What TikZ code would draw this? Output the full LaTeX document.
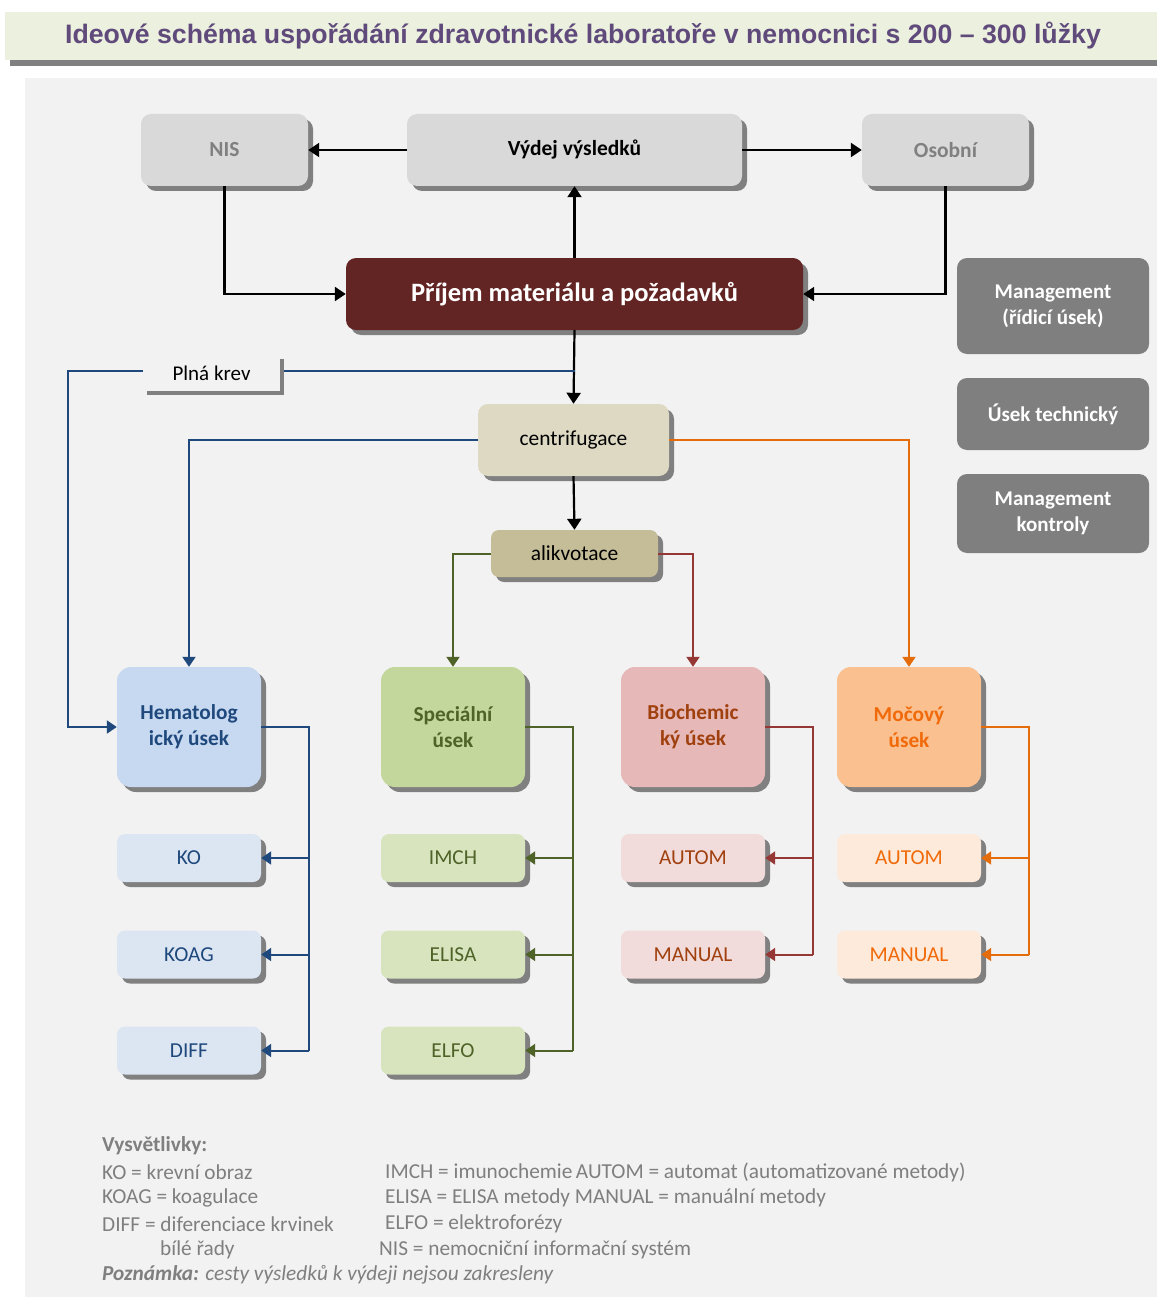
\documentclass[tikz,border=0pt]{standalone}
\usepackage{fontspec}
\setmainfont{Carlito}
\newfontfamily\titlefont{Liberation Sans}
\usetikzlibrary{shadows,arrows.meta}
\definecolor{panelbg}{HTML}{F2F2F2}
\definecolor{titlebg}{HTML}{EBF1DE}
\definecolor{titletxt}{HTML}{604A7B}
\definecolor{shadowgray}{HTML}{808080}
\definecolor{topfill}{HTML}{D9D9D9}
\definecolor{prijemfill}{HTML}{632523}
\definecolor{centrifill}{HTML}{DDD9C3}
\definecolor{alikfill}{HTML}{C4BD97}
\definecolor{hemfill}{HTML}{C6D9F1}
\definecolor{hemsmall}{HTML}{DCE6F2}
\definecolor{hemtxt}{HTML}{1F497D}
\definecolor{spefill}{HTML}{C3D69B}
\definecolor{spesmall}{HTML}{D7E4BD}
\definecolor{spetxt}{HTML}{4F6228}
\definecolor{biofill}{HTML}{E6B9B8}
\definecolor{biosmall}{HTML}{F2DCDB}
\definecolor{biotxt}{HTML}{A0400F}
\definecolor{bioline}{HTML}{953735}
\definecolor{mocfill}{HTML}{FAC090}
\definecolor{mocsmall}{HTML}{FDEADA}
\definecolor{moctxt}{HTML}{F06A0A}
\definecolor{mocline}{HTML}{E46C0A}
\definecolor{mgmtfill}{HTML}{7F7F7F}
\definecolor{legtxt}{HTML}{7F7F7F}
\tikzset{
  shad/.style={drop shadow={shadow xshift=5pt,shadow yshift=-5pt,fill=shadowgray,opacity=1}},
  bigbox/.style={shad,rounded corners=14pt,align=center,inner sep=0pt,font=\fontsize{21.3}{26}\selectfont\bfseries},
  smallbox/.style={shad,rounded corners=8pt,align=center,inner sep=0pt,font=\fontsize{21.3}{24}\selectfont,minimum width=144pt,minimum height=48pt},
  topbox/.style={shad,rounded corners=10pt,fill=topfill,inner sep=0pt,font=\fontsize{21.5}{24}\selectfont\bfseries,minimum height=72pt},
  mgmt/.style={fill=mgmtfill,rounded corners=10pt,text=white,align=center,inner sep=0pt,font=\fontsize{21}{26}\selectfont\bfseries,minimum width=192pt},
  blk/.style={line width=2.2pt,-{Triangle[width=14pt,length=11pt]}},
  blkline/.style={line width=2.2pt},
  col/.style={line width=2pt,-{Triangle[width=13pt,length=10pt]}},
  colline/.style={line width=2pt},
  legend/.style={anchor=west,inner sep=0pt,text=legtxt,font=\fontsize{21.3}{24}\selectfont}
}
\begin{document}
\begin{tikzpicture}[x=1pt,y=-1pt]
\useasboundingbox (0,0) rectangle (1157,1297);
\fill[white] (0,0) rectangle (1157,1297);
% title band
\fill[shadowgray] (10,60) rectangle (1157,66);
\fill[titlebg] (5,12) rectangle (1157,60);
\node[text=titletxt,font=\titlefont\fontsize{26.7}{30}\selectfont\bfseries] (title) at (583,36) {Ideové schéma uspořádání zdravotnické laboratoře v nemocnici s 200 – 300 lůžky};
% panel
\fill[panelbg] (25,78) rectangle (1157,1297);

% top row
\node[topbox,text=shadowgray,minimum width=167pt] (nis) at (224.5,150) {NIS};
\node[topbox,text=black,minimum width=335pt] (vydej) at (574.5,150) {Výdej výsledků};
\node[topbox,text=shadowgray,minimum width=167pt] (osobni) at (945.5,150) {Osobní};
\node[shad,rounded corners=10pt,fill=prijemfill,text=white,inner sep=0pt,minimum width=457pt,minimum height=72pt,font=\fontsize{26.5}{30}\selectfont\bfseries] (prijem) at (574.5,294) {Příjem materiálu a požadavků};

% management
\node[mgmt,minimum height=96pt] (m1) at (1053,306) {Management\\(řídicí úsek)};
\node[mgmt,minimum height=72pt] (m2) at (1053,414) {Úsek technický};
\node[mgmt,minimum height=79pt] (m3) at (1053,513.5) {Management\\kontroly};

% plna krev
\node[drop shadow={shadow xshift=4pt,shadow yshift=-4pt,fill=shadowgray,opacity=1},fill=panelbg,inner sep=0pt,minimum width=137pt,minimum height=36pt,font=\fontsize{21}{24}\selectfont] (plna) at (211.5,373) {Plná krev};

% centrifugace, alikvotace
\node[shad,rounded corners=10pt,fill=centrifill,inner sep=0pt,minimum width=191pt,minimum height=72pt,font=\fontsize{21.4}{24}\selectfont] (centri) at (573.5,440) {centrifugace};
\node[shad,rounded corners=8pt,fill=alikfill,inner sep=0pt,minimum width=167pt,minimum height=47pt,font=\fontsize{21.4}{24}\selectfont] (alik) at (574.5,553.5) {alikvotace};

% sections
\node[bigbox,fill=hemfill,text=hemtxt,minimum width=144pt,minimum height=120pt] (hem) at (189,727) {Hematolog\\ický úsek};
\node[bigbox,fill=spefill,text=spetxt,minimum width=144pt,minimum height=120pt] (spe) at (453,727) {Speciální\\úsek};
\node[bigbox,fill=biofill,text=biotxt,minimum width=144pt,minimum height=120pt] (bio) at (693,727) {Biochemic\\ký úsek};
\node[bigbox,fill=mocfill,text=moctxt,minimum width=144pt,minimum height=120pt] (moc) at (909,727) {Močový\\úsek};

% small boxes
\node[smallbox,fill=hemsmall,text=hemtxt] (ko) at (189,858) {KO};
\node[smallbox,fill=hemsmall,text=hemtxt] (koag) at (189,954.5) {KOAG};
\node[smallbox,fill=hemsmall,text=hemtxt] (diff) at (189,1050.5) {DIFF};
\node[smallbox,fill=spesmall,text=spetxt] (imch) at (453,858) {IMCH};
\node[smallbox,fill=spesmall,text=spetxt] (elisa) at (453,954.5) {ELISA};
\node[smallbox,fill=spesmall,text=spetxt] (elfo) at (453,1050.5) {ELFO};
\node[smallbox,fill=biosmall,text=biotxt] (bauto) at (693,858) {AUTOM};
\node[smallbox,fill=biosmall,text=biotxt] (bman) at (693,954.5) {MANUAL};
\node[smallbox,fill=mocsmall,text=moctxt] (mauto) at (909,858) {AUTOM};
\node[smallbox,fill=mocsmall,text=moctxt] (mman) at (909,954.5) {MANUAL};

% black connectors
\draw[blk] (vydej.west) -- (nis.east);
\draw[blk] (vydej.east) -- (osobni.west);
\draw[blk] (prijem.north) -- (vydej.south);
\draw[blk] (nis.south) |- (prijem.west);
\draw[blk] (osobni.south) |- (prijem.east);
\draw[blk] (prijem.south) -- (centri.north);
\draw[blk] (centri.south) -- (alik.north);

% plna krev connectors
\coordinate (pj) at (574.5,371);
\coordinate (pl) at (68,371);
\draw[hemtxt,colline] (plna.east |- pj) ++(4,0) -- (pj);
\draw[hemtxt,col] (plna.west |- pj) -- (pl) |- (hem.west);

% centrifugace connectors
\draw[hemtxt,col] (centri.west) -| (hem.north);
\draw[mocline,col] (centri.east) -| (moc.north);
\draw[spetxt,col] (alik.west) -| (spe.north);
\draw[bioline,col] (alik.east) -| (bio.north);

% section branches
\coordinate (hv) at (308.5,727);
\draw[hemtxt,colline] (hem.east) -- (hv) -- (hv |- diff.east);
\draw[hemtxt,col] (hv |- ko.east) -- (ko.east);
\draw[hemtxt,col] (hv |- koag.east) -- (koag.east);
\draw[hemtxt,col] (hv |- diff.east) -- (diff.east);

\coordinate (sv) at (572.5,727);
\draw[spetxt,colline] (spe.east) -- (sv) -- (sv |- elfo.east);
\draw[spetxt,col] (sv |- imch.east) -- (imch.east);
\draw[spetxt,col] (sv |- elisa.east) -- (elisa.east);
\draw[spetxt,col] (sv |- elfo.east) -- (elfo.east);

\coordinate (bv) at (813,727);
\draw[bioline,colline] (bio.east) -- (bv) -- (bv |- bman.east);
\draw[bioline,col] (bv |- bauto.east) -- (bauto.east);
\draw[bioline,col] (bv |- bman.east) -- (bman.east);

\coordinate (mv) at (1029,727);
\draw[mocline,colline] (moc.east) -- (mv) -- (mv |- mman.east);
\draw[mocline,col] (mv |- mauto.east) -- (mauto.east);
\draw[mocline,col] (mv |- mman.east) -- (mman.east);

% legend
\node[legend,font=\fontsize{21.3}{24}\selectfont\bfseries] (l0) at (102,1146) {Vysvětlivky:};
\node[legend] (l1) at (102,1172) {KO = krevní obraz};
\node[legend] (l2) at (102,1197.5) {KOAG = koagulace};
\node[legend] (l3) at (102,1224) {DIFF = diferenciace krvinek};
\node[legend] (l4) at (160,1250) {bílé řady};
\node[legend] (r1) at (385,1172) {IMCH = imunochemie\,AUTOM = automat (automatizované metody)};
\node[legend] (r2) at (385,1197.5) {ELISA = ELISA metody MANUAL = manuální metody};
\node[legend] (r3) at (385,1224) {ELFO = elektroforézy};
\node[legend] (r4) at (379,1250) {NIS = nemocniční informační systém};
\node[legend] (l5) at (102,1275) {\textbf{\textit{Poznámka:}} \textit{cesty výsledků k výdeji nejsou zakresleny}};
\end{tikzpicture}
\end{document}
